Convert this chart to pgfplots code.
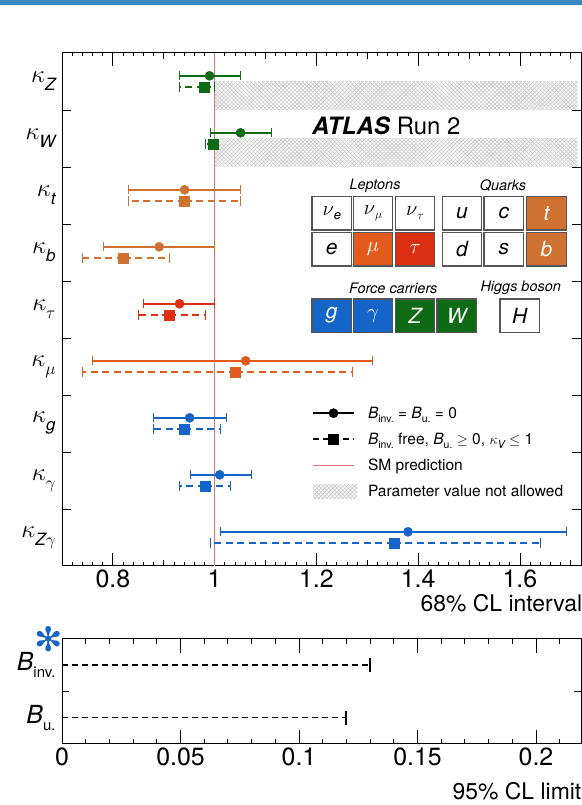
\documentclass[border=0pt]{standalone}
\usepackage{amsmath}
\usepackage{pgfplots}
\pgfplotsset{compat=1.18}
\usepackage{pgfplotstable}
\usepackage{fontspec}
\setmainfont{TeX Gyre Heros}
\newfontfamily\dejavu{DejaVu Sans}
\usetikzlibrary{patterns,patterns.meta}

\definecolor{kgreen}{HTML}{0E6A14}
\definecolor{kblue}{HTML}{1565C8}
\definecolor{kquark}{HTML}{CE7131}
\definecolor{kmu}{HTML}{E35B1C}
\definecolor{ktau}{HTML}{DD3012}
\definecolor{smred}{HTML}{E57373}
\definecolor{boxgray}{HTML}{555555}
\definecolor{stripe}{HTML}{3B88C3}

% kappa label with a lowered italic subscript
\newcommand{\kap}[1]{$\kappa$\raisebox{-8bp}{\fontsize{17}{17}\selectfont\itshape #1}}
% branching-ratio symbols
\newcommand{\Bs}[3]{\textit{B}\raisebox{-#3}{\fontsize{#2}{#2}\selectfont #1}}

% fitted coupling modifiers: value, row, lower and upper uncertainty
\pgfplotstableread{
x y em ep
0.990 8.6 0.059 0.061
1.051 7.6 0.060 0.060
}\greenA
\pgfplotstableread{
x y em ep
0.979 8.4 0.048 0.021
0.998 7.4 0.016 0.002
}\greenB
\pgfplotstableread{
x y em ep
0.941 6.6 0.110 0.110
0.891 5.6 0.110 0.109
}\quarkA
\pgfplotstableread{
x y em ep
0.941 6.4 0.110 0.110
0.821 5.4 0.081 0.090
}\quarkB
\pgfplotstableread{
x y em ep
0.931 4.6 0.071 0.069
}\tauA
\pgfplotstableread{
x y em ep
0.911 4.4 0.061 0.070
}\tauB
\pgfplotstableread{
x y em ep
1.061 3.6 0.301 0.249
}\muA
\pgfplotstableread{
x y em ep
1.041 3.4 0.301 0.230
}\muB
\pgfplotstableread{
x y em ep
0.951 2.6 0.071 0.071
1.010 1.6 0.059 0.061
1.380 0.6 0.370 0.310
}\blueA
\pgfplotstableread{
x y em ep
0.940 2.4 0.060 0.071
0.981 1.4 0.051 0.050
1.352 0.4 0.361 0.288
}\blueB

\pgfplotsset{
  solidfit/.style={only marks, mark=*, mark size=4.6bp, forget plot,
    error bars/.cd, x dir=both, x explicit,
    error bar style={line width=1.6bp, solid}},
  dashfit/.style={only marks, mark=square*, mark size=5bp, forget plot,
    error bars/.cd, x dir=both, x explicit,
    error bar style={line width=1.6bp, dash pattern=on 7bp off 4.5bp}},
}

\begin{document}
\begin{tikzpicture}
\fill[stripe] (0,800bp) rectangle (582bp,805bp);

\begin{axis}[
  at={(62bp,239bp)}, anchor=south west, scale only axis,
  width=519bp, height=513bp,
  xmin=0.7, xmax=1.72, ymin=0, ymax=9,
  axis line style={line width=1bp},
  /pgf/number format/assume math mode=true,
  xtick={0.8,1,1.2,1.4,1.6}, xticklabels={0.8,1,1.2,1.4,1.6},
  minor xtick={0.7,0.72,...,1.72},
  extra x ticks={0.7,0.9,1.1,1.3,1.5,1.7}, extra x tick labels={},
  extra x tick style={major tick length=6bp},
  major tick length=13bp, minor tick length=3.5bp,
  tick style={line width=0.8bp, black},
  xticklabel style={font=\fontsize{25}{25}\selectfont},
  ytick={0.5,1.5,...,8.5},
  yticklabels={\kap{Z$\gamma$},\kap{$\gamma$},\kap{g},\kap{$\mu$},\kap{$\tau$},\kap{b},\kap{t},\kap{W},\kap{Z}},
  y tick style={draw=none},
  yticklabel style={font=\fontsize{31}{33}\selectfont, xshift=-3bp},
  extra y ticks={1,2,...,8}, extra y tick labels={},
  extra y tick style={major tick length=9bp, y tick style={draw=black}},
  legend style={at={(rel axis cs:0.4817,0.3236)}, anchor=north west,
    draw=none, fill=none, inner sep=0pt,
    font=\fontsize{15.6}{15.6}\selectfont,
    nodes={inner sep=0pt, text height=18.5bp, text depth=7.5bp}},
  legend cell align=left,
]
% region excluded by kappa_V <= 1
\addplot[draw=none, forget plot, pattern={Lines[angle=45,distance=2.8bp,line width=0.6bp]}, pattern color=gray!45]
  coordinates {(1,8) (1.713,8) (1.713,8.5) (1,8.5)} -- cycle;
\addplot[draw=none, forget plot, pattern={Lines[angle=-45,distance=2.8bp,line width=0.6bp]}, pattern color=gray!45]
  coordinates {(1,8) (1.713,8) (1.713,8.5) (1,8.5)} -- cycle;
\addplot[draw=none, forget plot, pattern={Lines[angle=45,distance=2.8bp,line width=0.6bp]}, pattern color=gray!45]
  coordinates {(1,7) (1.713,7) (1.713,7.5) (1,7.5)} -- cycle;
\addplot[draw=none, forget plot, pattern={Lines[angle=-45,distance=2.8bp,line width=0.6bp]}, pattern color=gray!45]
  coordinates {(1,7) (1.713,7) (1.713,7.5) (1,7.5)} -- cycle;
% Standard Model expectation
\addplot[smred, line width=1.3bp, forget plot] coordinates {(1,0) (1,9)};

\addplot[kgreen, solidfit] table[x=x, y=y, x error minus=em, x error plus=ep] {\greenA};
\addplot[kgreen, dashfit]  table[x=x, y=y, x error minus=em, x error plus=ep] {\greenB};
\addplot[kquark, solidfit] table[x=x, y=y, x error minus=em, x error plus=ep] {\quarkA};
\addplot[kquark, dashfit]  table[x=x, y=y, x error minus=em, x error plus=ep] {\quarkB};
\addplot[ktau, solidfit]   table[x=x, y=y, x error minus=em, x error plus=ep] {\tauA};
\addplot[ktau, dashfit]    table[x=x, y=y, x error minus=em, x error plus=ep] {\tauB};
\addplot[kmu, solidfit]    table[x=x, y=y, x error minus=em, x error plus=ep] {\muA};
\addplot[kmu, dashfit]     table[x=x, y=y, x error minus=em, x error plus=ep] {\muB};
\addplot[kblue, solidfit]  table[x=x, y=y, x error minus=em, x error plus=ep] {\blueA};
\addplot[kblue, dashfit]   table[x=x, y=y, x error minus=em, x error plus=ep] {\blueB};

\addlegendimage{legend image code/.code={
  \draw[black, line width=1.6bp] (0bp,0bp) -- (41bp,0bp);
  \fill[black] (20.5bp,0bp) circle (4.6bp);
  \path[draw=none, fill=none] (0bp,0bp) -- (55bp,0bp);}}
\addlegendentry{\Bs{inv.}{10.5}{4bp} = \Bs{u.}{10.5}{4bp} = 0}
\addlegendimage{legend image code/.code={
  \draw[black, line width=1.6bp, dash pattern=on 6bp off 4bp] (0bp,0bp) -- (41bp,0bp);
  \fill[black] (15.5bp,-5bp) rectangle (25.5bp,5bp);
  \path[draw=none, fill=none] (0bp,0bp) -- (55bp,0bp);}}
\addlegendentry{\Bs{inv.}{10.5}{4bp} free, \Bs{u.}{10.5}{4bp} $\geq$ 0, $\kappa$\raisebox{-4bp}{\fontsize{11}{11}\selectfont\itshape V} $\leq$ 1}
\addlegendimage{legend image code/.code={
  \draw[smred, line width=1.3bp] (0bp,0bp) -- (41bp,0bp);
  \path[draw=none, fill=none] (0bp,0bp) -- (55bp,0bp);}}
\addlegendentry{SM prediction}
\addlegendimage{legend image code/.code={
  \fill[draw=none, pattern={Lines[angle=45,distance=2.8bp,line width=0.6bp]}, pattern color=gray!45] (0bp,-7bp) rectangle (44bp,7bp);
  \fill[draw=none, pattern={Lines[angle=-45,distance=2.8bp,line width=0.6bp]}, pattern color=gray!45] (0bp,-7bp) rectangle (44bp,7bp);
  \path[draw=none, fill=none] (0bp,0bp) -- (55bp,0bp);}}
\addlegendentry{Parameter value not allowed}
\end{axis}

\begin{axis}[
  at={(62bp,61bp)}, anchor=south west, scale only axis,
  width=519bp, height=105bp,
  xmin=0, xmax=0.219, ymin=0, ymax=2,
  axis line style={line width=1bp},
  /pgf/number format/assume math mode=true,
  xtick={0,0.05,0.1,0.15,0.2}, xticklabels={0,0.05,0.1,0.15,0.2},
  minor xtick={0,0.01,...,0.21},
  major tick length=14bp, minor tick length=5bp,
  tick style={line width=0.8bp, black},
  xticklabel style={font=\fontsize{25}{25}\selectfont},
  ytick={0.5,1.5}, yticklabels={\Bs{u.}{15}{7bp},\Bs{inv.}{15}{7bp}},
  y tick style={draw=none},
  yticklabel style={font=\fontsize{25}{27}\selectfont, xshift=-3bp},
  extra y ticks={1}, extra y tick labels={},
  extra y tick style={major tick length=7bp, y tick style={draw=black}},
]
\addplot[black, line width=1.5bp, dash pattern=on 6bp off 4bp, mark=|, mark indices={2},
  mark options={solid, mark size=7bp, line width=2.2bp}] coordinates {(0,1.5) (0.13,1.5)};
\addplot[black, line width=1.5bp, dash pattern=on 6bp off 4bp, mark=|, mark indices={2},
  mark options={solid, mark size=7bp, line width=2.2bp}] coordinates {(0,0.5) (0.12,0.5)};
\end{axis}

\begin{scope}[x=1bp, y=-1bp, yshift=805bp]
  \node[font=\fontsize{24}{24}\selectfont, anchor=base west, inner sep=0pt] at (312,135)
    {\textbf{\textit{ATLAS}} Run 2};
  \node[font=\fontsize{23}{23}\selectfont, anchor=base east, inner sep=0pt] at (582.5,611.5) {68\% CL interval};
  \node[font=\fontsize{23}{23}\selectfont, anchor=base east, inner sep=0pt] at (581.5,800) {95\% CL limit};
  \node[text=kblue, font=\dejavu\fontsize{34}{34}\selectfont] at (49,639) {✻};

  \newcommand{\pbox}[5]{%
    \draw[draw=boxgray, line width=1.2bp, fill=#3] (#1,#2) rectangle ++(39.5,33.3);
    \node[text=#4, font=\fontsize{21}{21}\selectfont\itshape] at ({#1+19.75},{#2+16.65}) {#5};}
  \node[font=\fontsize{14.5}{14.5}\selectfont\itshape] at (375,186) {Leptons};
  \node[font=\fontsize{14.5}{14.5}\selectfont\itshape] at (503,186) {Quarks};
  \node[font=\fontsize{14.5}{14.5}\selectfont\itshape] at (393.3,288.3) {Force carriers};
  \node[font=\fontsize{14.5}{14.5}\selectfont\itshape] at (520.7,288.3) {Higgs boson};
  \pbox{312}{196.7}{white}{black}{$\nu$\raisebox{-4bp}{\fontsize{13}{13}\selectfont e}}
  \pbox{353.3}{196.7}{white}{black}{$\nu$\raisebox{-4bp}{\fontsize{13}{13}\selectfont$\mu$}}
  \pbox{395.3}{196.7}{white}{black}{$\nu$\raisebox{-4bp}{\fontsize{13}{13}\selectfont$\tau$}}
  \pbox{442.3}{196.7}{white}{black}{u}
  \pbox{484}{196.7}{white}{black}{c}
  \pbox{526.7}{196.7}{kquark}{white}{t}
  \pbox{312}{232.7}{white}{black}{e}
  \pbox{353.3}{232.7}{kmu}{white}{$\mu$}
  \pbox{395.3}{232.7}{ktau}{white}{$\tau$}
  \pbox{442.3}{232.7}{white}{black}{d}
  \pbox{484}{232.7}{white}{black}{s}
  \pbox{526.7}{232.7}{kquark}{white}{b}
  \pbox{312}{299}{kblue}{white}{g}
  \pbox{353.3}{299}{kblue}{white}{$\gamma$}
  \pbox{395.3}{299}{kgreen}{white}{Z}
  \pbox{437}{299}{kgreen}{white}{W}
  \pbox{500}{299}{white}{black}{H}
\end{scope}

\pgfresetboundingbox
\useasboundingbox (0,0) rectangle (582bp,805bp);
\end{tikzpicture}
\end{document}
